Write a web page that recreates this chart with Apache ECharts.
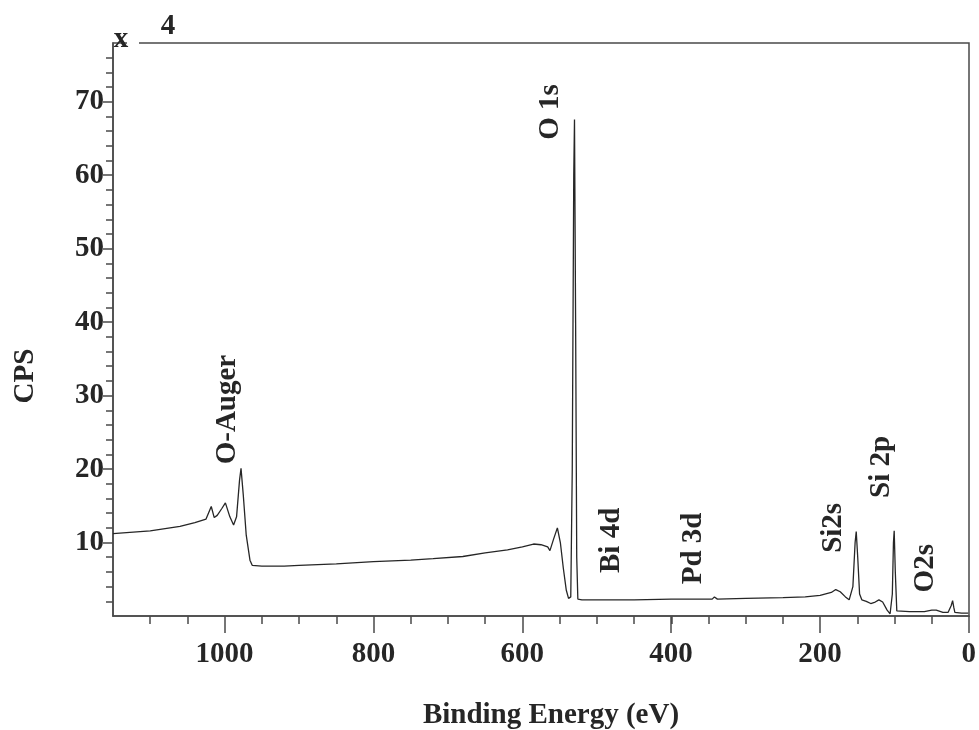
<!DOCTYPE html>
<html>
<head>
<meta charset="utf-8">
<script src="https://cdn.jsdelivr.net/npm/echarts@6/dist/echarts.min.js"></script>
<style>
html,body{margin:0;padding:0;background:#fff;}
#chart{width:979px;height:730px;}
</style>
</head>
<body>
<div id="chart"></div>
<script>
// Binding energy (eV) and intensity (CPS, x10^4)
var energy = [1150,1100,1060,1040,1025,1018,1014,1010,1004,999,993,988,984,980,978,975,971,966,963,
  950,920,900,850,800,750,720,680,650,620,600,585,575,566,563,558,553,549,545,541,538,535,
  533,531,530,528.5,527,525.5,520,500,450,400,345,342,338,300,250,220,200,185,179,173,166,161,
  156,153,151.5,149.5,147,144,138,132,126,121,116,110,106,103,101.5,100.5,99,97,95,80,60,50,44,35,28,24,22,20.5,19,10,1];
var cps = [11.2,11.6,12.2,12.7,13.2,14.9,13.4,13.7,14.6,15.4,13.5,12.4,13.5,18.5,20.1,16.5,11.0,7.6,6.9,
  6.8,6.8,6.9,7.1,7.4,7.6,7.8,8.1,8.6,9.0,9.4,9.8,9.7,9.4,8.9,10.5,12.0,10.0,6.5,3.5,2.4,2.6,
  20,60,67.6,40,8,2.3,2.2,2.2,2.2,2.3,2.3,2.6,2.3,2.4,2.5,2.6,2.8,3.2,3.6,3.3,2.6,2.2,
  4,10,11.5,8,3,2.2,2.0,1.7,1.9,2.2,1.9,0.8,0.3,3,10,11.6,6,0.7,0.6,0.6,0.6,0.8,0.8,0.5,0.5,1.4,2.1,1.2,0.5,0.4,0.4];

// Peak annotations: label text, anchor energy (eV), anchor height (CPS)
var peakNames = ['O-Auger','O 1s','Bi 4d','Pd 3d','Si2s','Si 2p','O2s'];
var peakEnergy = [995.6, 561.6, 479.6, 369.5, 181.4, 116.9, 57.8];
var peakHeight = [28.1, 68.6, 10.3, 9.2, 12.0, 20.3, 6.5];

var xMajorTicks = [0,200,400,600,800,1000];
var xMinorTicks = [];
for (var i = 0; i <= 1100; i += 50) xMinorTicks.push(i);
var yMajorTicks = [10,20,30,40,50,60,70];
var yMinorTicks = [];
for (var j = 2; j <= 76; j += 2) yMinorTicks.push(j);

var FONT = "'Liberation Serif','Times New Roman',serif";
var INK = '#262626';
var AXIS = '#4a4a4a';

var lineData = energy.map(function(e, k){ return [e, cps[k]]; });
var annData = peakNames.map(function(n, k){ return {value:[peakEnergy[k], peakHeight[k]], name:n}; });

var gridRect = {left:113, right:10, top:43, bottom:114};
var chart = echarts.init(document.getElementById('chart'), null, {renderer:'canvas'});
chart.setOption({
  animation:false,
  backgroundColor:'#fff',
  grid:[
    Object.assign({show:true, borderColor:AXIS, borderWidth:1.5, backgroundColor:'transparent'}, gridRect),
    Object.assign({show:false}, gridRect)
  ],
  xAxis:[
    {type:'value', gridIndex:0, min:0, max:1150, inverse:true, position:'bottom',
     axisLine:{show:true, onZero:false, lineStyle:{color:AXIS, width:1.5}},
     axisTick:{show:true, inside:false, length:8, customValues:xMinorTicks, lineStyle:{color:AXIS, width:1.5}},
     axisLabel:{show:false}, splitLine:{show:false}},
    {type:'value', gridIndex:1, min:0, max:1150, inverse:true, position:'bottom',
     axisLine:{show:false, onZero:false},
     axisTick:{show:true, inside:false, length:17, customValues:xMajorTicks, lineStyle:{color:AXIS, width:1.5}},
     axisLabel:{show:true, customValues:xMajorTicks, margin:24, formatter:function(v){ return String(v); },
                fontFamily:FONT, fontWeight:'bold', fontSize:29, color:INK},
     splitLine:{show:false}}
  ],
  yAxis:[
    {type:'value', gridIndex:0, min:0, max:78, position:'left',
     axisLine:{show:true, onZero:false, lineStyle:{color:AXIS, width:1.5}},
     axisTick:{show:true, inside:false, length:7, customValues:yMinorTicks, lineStyle:{color:AXIS, width:1.5}},
     axisLabel:{show:false}, splitLine:{show:false}},
    {type:'value', gridIndex:1, min:0, max:78, position:'left',
     axisLine:{show:false, onZero:false},
     axisTick:{show:true, inside:false, length:10, customValues:yMajorTicks, lineStyle:{color:AXIS, width:1.5}},
     axisLabel:{show:true, customValues:yMajorTicks, margin:9, formatter:function(v){ return String(v); },
                fontFamily:FONT, fontWeight:'bold', fontSize:29, color:INK},
     splitLine:{show:false}}
  ],
  series:[
    {type:'line', xAxisIndex:0, yAxisIndex:0, data:lineData, showSymbol:false, symbol:'none',
     lineStyle:{color:INK, width:1.3}, clip:true},
    {type:'scatter', xAxisIndex:0, yAxisIndex:0, data:annData, symbolSize:0,
     itemStyle:{opacity:1, color:INK},
     label:{show:true, position:'inside', rotate:90, formatter:'{b}', align:'center', verticalAlign:'middle',
            fontFamily:FONT, fontWeight:'bold', fontSize:29, color:INK, opacity:1}}
  ],
  graphic:[
    {type:'text', x:26, y:376, rotation:Math.PI/2,
     style:{text:'CPS', font:"bold 29px 'Liberation Serif'", fill:INK, textAlign:'center', textVerticalAlign:'middle'}},
    {type:'text', x:551, y:716,
     style:{text:'Binding Energy (eV)', font:"bold 29px 'Liberation Serif'", fill:INK, textAlign:'center', textVerticalAlign:'middle'}},
    {type:'rect', shape:{x:127, y:39, width:12, height:8}, style:{fill:'#fff'}, z:100},
    {type:'text', x:121, y:40, z:101,
     style:{text:'x', font:"bold 29px 'Liberation Serif'", fill:INK, textAlign:'center', textVerticalAlign:'middle'}},
    {type:'text', x:168, y:27, z:101,
     style:{text:'4', font:"bold 29px 'Liberation Serif'", fill:INK, textAlign:'center', textVerticalAlign:'middle'}}
  ]
});
</script>
</body>
</html>
